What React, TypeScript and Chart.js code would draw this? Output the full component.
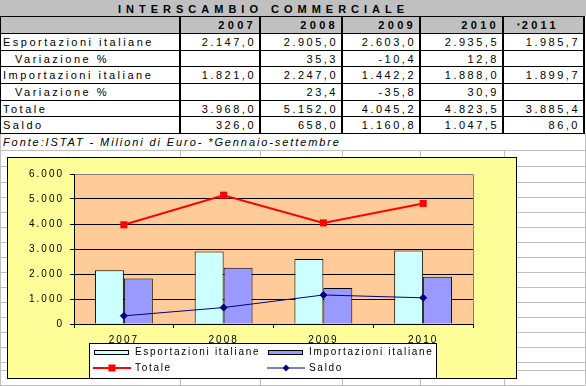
import React, { useEffect, useRef } from 'react';
import { Chart, registerables } from 'chart.js';

Chart.register(...registerables);

// ---------- DATA ----------
const chartYears = ['2007', '2008', '2009', '2010'];
const tableYears = ['2007', '2008', '2009', '2010', '2011'];
const esportazioni = [2147.0, 2905.0, 2603.0, 2935.5];
const importazioni = [1821.0, 2247.0, 1442.2, 1888.0];
const totale = [3968.0, 5152.0, 4045.2, 4823.5];
const saldo = [326.0, 658.0, 1160.8, 1047.5];
const esportazioni2011 = 1985.7;
const importazioni2011 = 1899.7;
const totale2011 = 3885.4;
const saldo2011 = 86.0;
const variazioneEsp: (number | null)[] = [null, 35.3, -10.4, 12.8, null];
const variazioneImp: (number | null)[] = [null, 23.4, -35.8, 30.9, null];
const yTickValues = [0, 1000, 2000, 3000, 4000, 5000, 6000];
const rowLabels = [
  'Esportazioni italiane',
  'Variazione %',
  'Importazioni italiane',
  'Variazione %',
  'Totale',
  'Saldo',
];
const titleText = 'INTERSCAMBIO COMMERCIALE';
const sourceText = 'Fonte:ISTAT - Milioni di Euro- *Gennaio-settembre';

// ---------- LAYOUT (positions, not data) ----------
const COLS = [0, 180, 260, 342, 420, 503, 584];
const ROWS = [0, 16, 33, 50, 66, 83, 100, 116, 133];
const GRID_YS = [150, 166, 182, 197, 212, 227, 242, 257, 272, 287, 302, 317, 332, 347, 362, 370, 385];
const GRID_XS = [0, 180, 260, 342, 420, 504, 585];
const FONT = '"Liberation Sans", Arial, sans-serif';

function fmt(v: number | null, dec: number): string {
  if (v === null || v === undefined) return '';
  const neg = v < 0;
  const s = Math.abs(v).toFixed(dec);
  const parts = s.split('.');
  const ip = parts[0].replace(/\B(?=(\d{3})+(?!\d))/g, '.');
  return (neg ? '-' : '') + ip + (parts.length > 1 ? ',' + parts[1] : '');
}

const tableRows: (number | null)[][] = [
  [...esportazioni, esportazioni2011],
  variazioneEsp,
  [...importazioni, importazioni2011],
  variazioneImp,
  [...totale, totale2011],
  [...saldo, saldo2011],
];

const spacingPlugin = {
  id: 'spacing',
  beforeUpdate(chart: any) {
    chart.ctx.letterSpacing = '2px';
  },
  beforeDraw(chart: any) {
    const { ctx, chartArea } = chart;
    ctx.letterSpacing = '2px';
    ctx.save();
    ctx.fillStyle = '#FFCC99';
    ctx.fillRect(chartArea.left, chartArea.top, chartArea.right - chartArea.left, chartArea.bottom - chartArea.top);
    ctx.restore();
  },
  afterDraw(chart: any) {
    const { ctx, chartArea } = chart;
    ctx.save();
    ctx.strokeStyle = '#808080';
    ctx.lineWidth = 1;
    ctx.beginPath();
    const rx = Math.round(chartArea.right) + 0.5;
    ctx.moveTo(rx, Math.round(chartArea.top) + 0.5);
    ctx.lineTo(rx, Math.round(chartArea.bottom));
    ctx.stroke();
    ctx.restore();
  },
};

const legendPlugin = {
  id: 'xlLegend',
  afterDraw(chart: any) {
    const ctx = chart.ctx;
    const boxW = 347;
    const left = Math.round((chart.width - boxW) / 2);
    const top = 185;
    ctx.save();
    ctx.fillStyle = '#FFFFFF';
    ctx.fillRect(left, top, boxW, chart.height - top + 2);
    ctx.strokeStyle = '#000';
    ctx.lineWidth = 1;
    ctx.strokeRect(left + 0.5, top + 0.5, boxW, chart.height - top + 2);
    ctx.font = '10px ' + FONT;
    ctx.letterSpacing = '1.7px';
    ctx.textBaseline = 'middle';
    ctx.textAlign = 'left';
    const colX = [left + 5, left + 179];
    const rowY = [top + 9, top + 25];
    chart.data.datasets.forEach((ds: any, i: number) => {
      const x = colX[i % 2];
      const yc = rowY[Math.floor(i / 2)];
      if ((ds.type || 'bar') === 'bar') {
        ctx.fillStyle = ds.backgroundColor;
        ctx.fillRect(x, yc - 2, 35, 5);
        ctx.strokeStyle = '#000';
        ctx.lineWidth = 1;
        ctx.strokeRect(x + 0.5, yc - 1.5, 34, 4);
      } else {
        ctx.strokeStyle = ds.borderColor;
        ctx.lineWidth = ds.borderWidth;
        ctx.beginPath();
        ctx.moveTo(x - 1, yc);
        ctx.lineTo(x + 37, yc);
        ctx.stroke();
        const mx = x + 18;
        ctx.fillStyle = ds.pointBackgroundColor;
        if (ds.pointStyle === 'rect') {
          ctx.fillRect(mx - 3.5, yc - 3.5, 7, 7);
        } else {
          ctx.beginPath();
          ctx.moveTo(mx, yc - 3.5);
          ctx.lineTo(mx + 3.5, yc);
          ctx.lineTo(mx, yc + 3.5);
          ctx.lineTo(mx - 3.5, yc);
          ctx.closePath();
          ctx.fill();
        }
      }
      ctx.fillStyle = '#000';
      ctx.fillText(ds.label, x + 41, yc + 0.5);
    });
    ctx.restore();
  },
};

function ChartBox() {
  const ref = useRef<HTMLCanvasElement | null>(null);
  useEffect(() => {
    if (!ref.current) return;
    const chart = new Chart(ref.current, {
      type: 'bar',
      data: {
        labels: chartYears,
        datasets: [
          {
            type: 'bar',
            label: 'Esportazioni italiane',
            data: esportazioni,
            backgroundColor: '#CCFFFF',
            borderColor: '#000000',
            borderWidth: 1,
            categoryPercentage: 0.58,
            barPercentage: 1.0,
            order: 2,
          },
          {
            type: 'bar',
            label: 'Importazioni italiane',
            data: importazioni,
            backgroundColor: '#9999FF',
            borderColor: '#000000',
            borderWidth: 1,
            categoryPercentage: 0.58,
            barPercentage: 1.0,
            order: 2,
          },
          {
            type: 'line',
            label: 'Totale',
            data: totale,
            borderColor: '#FF0000',
            backgroundColor: '#FF0000',
            borderWidth: 2,
            pointStyle: 'rect',
            pointRadius: 5,
            pointBackgroundColor: '#FF0000',
            pointBorderColor: '#FF0000',
            pointBorderWidth: 0,
            tension: 0,
            fill: false,
            order: 1,
          },
          {
            type: 'line',
            label: 'Saldo',
            data: saldo,
            borderColor: '#000080',
            backgroundColor: '#000080',
            borderWidth: 1,
            pointStyle: 'rectRot',
            pointRadius: 3.5,
            pointBackgroundColor: '#000080',
            pointBorderColor: '#000080',
            pointBorderWidth: 1,
            tension: 0,
            fill: false,
            order: 0,
          },
        ] as any,
      },
      options: {
        animation: false,
        responsive: false,
        events: [],
        layout: { padding: { top: 16, left: 0, right: 43, bottom: 0 } },
        plugins: {
          legend: { display: false },
          tooltip: { enabled: false },
          title: { display: false },
        },
        scales: {
          x: {
            offset: true,
            grid: {
              offset: true,
              drawOnChartArea: false,
              tickLength: 4,
              color: '#000',
              tickColor: '#000',
            },
            border: { color: '#000', width: 1 },
            ticks: {
              color: '#000',
              font: { family: FONT, size: 10 },
              padding: 6,
              maxRotation: 0,
              autoSkip: false,
            },
            afterFit: (s: any) => {
              s.height = 54;
            },
          },
          y: {
            min: 0,
            max: 6000,
            afterBuildTicks: (s: any) => {
              s.ticks = yTickValues.map((v) => ({ value: v }));
            },
            ticks: {
              color: '#000',
              font: { family: FONT, size: 10 },
              padding: 6,
              callback: (v: any) => fmt(Number(v), 0),
            },
            grid: {
              color: (c: any) => (c.tick && c.tick.value === 6000 ? '#808080' : '#000'),
              tickColor: '#000',
              tickLength: 4,
              lineWidth: 1,
            },
            border: { color: '#000', width: 1 },
            afterFit: (s: any) => {
              s.width = 66;
            },
          },
        },
      } as any,
      plugins: [spacingPlugin, legendPlugin],
    });
    return () => chart.destroy();
  }, []);
  return (
    <div
      style={{
        position: 'absolute',
        left: 7,
        top: 157,
        width: 508,
        height: 220,
        border: '1px solid #000',
        background: '#FFFF99',
      }}
    >
      <canvas ref={ref} width={508} height={220} style={{ display: 'block', width: 508, height: 220 }} />
    </div>
  );
}

const baseText: React.CSSProperties = {
  position: 'absolute',
  fontFamily: FONT,
  fontSize: 11,
  letterSpacing: '2.5px',
  whiteSpace: 'nowrap',
  color: '#000',
  boxSizing: 'border-box',
};

export default function App() {
  const lines: React.ReactNode[] = [];
  // sheet grid
  GRID_YS.forEach((y, i) =>
    lines.push(
      <div key={'gy' + i} style={{ position: 'absolute', left: 0, top: y, width: 586, height: 1, background: '#C0C0C0' }} />
    )
  );
  GRID_XS.forEach((x, i) =>
    lines.push(
      <div key={'gx' + i} style={{ position: 'absolute', left: x, top: 150, width: 1, height: 236, background: '#C0C0C0' }} />
    )
  );
  lines.push(<div key="gl0" style={{ position: 'absolute', left: 0, top: 133, width: 1, height: 17, background: '#C0C0C0' }} />);
  lines.push(<div key="gr0" style={{ position: 'absolute', left: 585, top: 133, width: 1, height: 17, background: '#C0C0C0' }} />);

  // table backgrounds
  const tbl: React.ReactNode[] = [];
  tbl.push(<div key="bgT" style={{ position: 'absolute', left: 0, top: 0, width: 586, height: ROWS[1], background: '#C0C0C0' }} />);
  tbl.push(
    <div key="bgH" style={{ position: 'absolute', left: 0, top: ROWS[1], width: 584, height: ROWS[2] - ROWS[1], background: '#C0C0C0' }} />
  );
  tbl.push(<div key="bgW" style={{ position: 'absolute', left: 0, top: ROWS[2], width: 584, height: ROWS[8] - ROWS[2], background: '#FFFFFF' }} />);
  // horizontal lines
  ROWS.slice(1).forEach((y, i) =>
    tbl.push(<div key={'th' + i} style={{ position: 'absolute', left: 0, top: y, width: 585, height: 1, background: '#000' }} />)
  );
  // vertical lines
  COLS.slice(1).forEach((x, i) =>
    tbl.push(
      <div key={'tv' + i} style={{ position: 'absolute', left: x - 1, top: ROWS[1], width: 2, height: ROWS[8] - ROWS[1] + 1, background: '#000' }} />
    )
  );
  tbl.push(<div key="tvl" style={{ position: 'absolute', left: 0, top: ROWS[1], width: 1, height: ROWS[8] - ROWS[1] + 1, background: '#000' }} />);

  // title
  tbl.push(
    <div key="title" style={{ ...baseText, left: 118, top: 0, height: ROWS[1], lineHeight: ROWS[1] + 'px', paddingTop: 1, fontWeight: 'bold', letterSpacing: '5px' }}>
      {titleText}
    </div>
  );
  // header years
  tableYears.forEach((yr, c) => {
    const isLast = c === tableYears.length - 1;
    tbl.push(
      <div
        key={'yr' + c}
        style={{
          ...baseText,
          left: isLast ? 517 : COLS[c + 1],
          width: isLast ? undefined : COLS[c + 2] - COLS[c + 1] - 1,
          top: ROWS[1],
          height: ROWS[2] - ROWS[1],
          lineHeight: ROWS[2] - ROWS[1] + 'px',
          paddingTop: 1,
          paddingRight: 3,
          textAlign: isLast ? 'left' : 'right',
          fontWeight: 'bold',
          letterSpacing: '3.3px',
        }}
      >
        {isLast ? (
          <>
            <span style={{ fontSize: 7, verticalAlign: 'top', letterSpacing: '2px' }}>*</span>
            {yr}
          </>
        ) : (
          yr
        )}
      </div>
    );
  });
  // row labels + values
  rowLabels.forEach((lab, r) => {
    const top = ROWS[r + 2];
    const h = ROWS[r + 3] - top;
    const indent = lab.startsWith('Variazione');
    tbl.push(
      <div key={'rl' + r} style={{ ...baseText, left: indent ? 15 : 3, top, height: h, lineHeight: h + 'px', paddingTop: 1 }}>
        {lab}
      </div>
    );
    tableRows[r].forEach((v, c) => {
      tbl.push(
        <div
          key={'v' + r + '_' + c}
          style={{
            ...baseText,
            left: COLS[c + 1],
            width: COLS[c + 2] - COLS[c + 1] - 1,
            top,
            height: h,
            lineHeight: h + 'px',
            paddingTop: 1,
            paddingRight: 3,
            textAlign: 'right',
          }}
        >
          {fmt(v, 1)}
        </div>
      );
    });
  });
  tbl.push(
    <div key="src" style={{ ...baseText, left: 3, top: ROWS[8], height: 17, lineHeight: '17px', paddingTop: 1, fontStyle: 'italic', letterSpacing: '1.9px' }}>
      {sourceText}
    </div>
  );

  return (
    <div style={{ position: 'relative', width: 586, height: 386, background: '#FFFFFF', overflow: 'hidden' }}>
      <style>{'body{margin:0;}'}</style>
      {lines}
      {tbl}
      <ChartBox />
    </div>
  );
}
